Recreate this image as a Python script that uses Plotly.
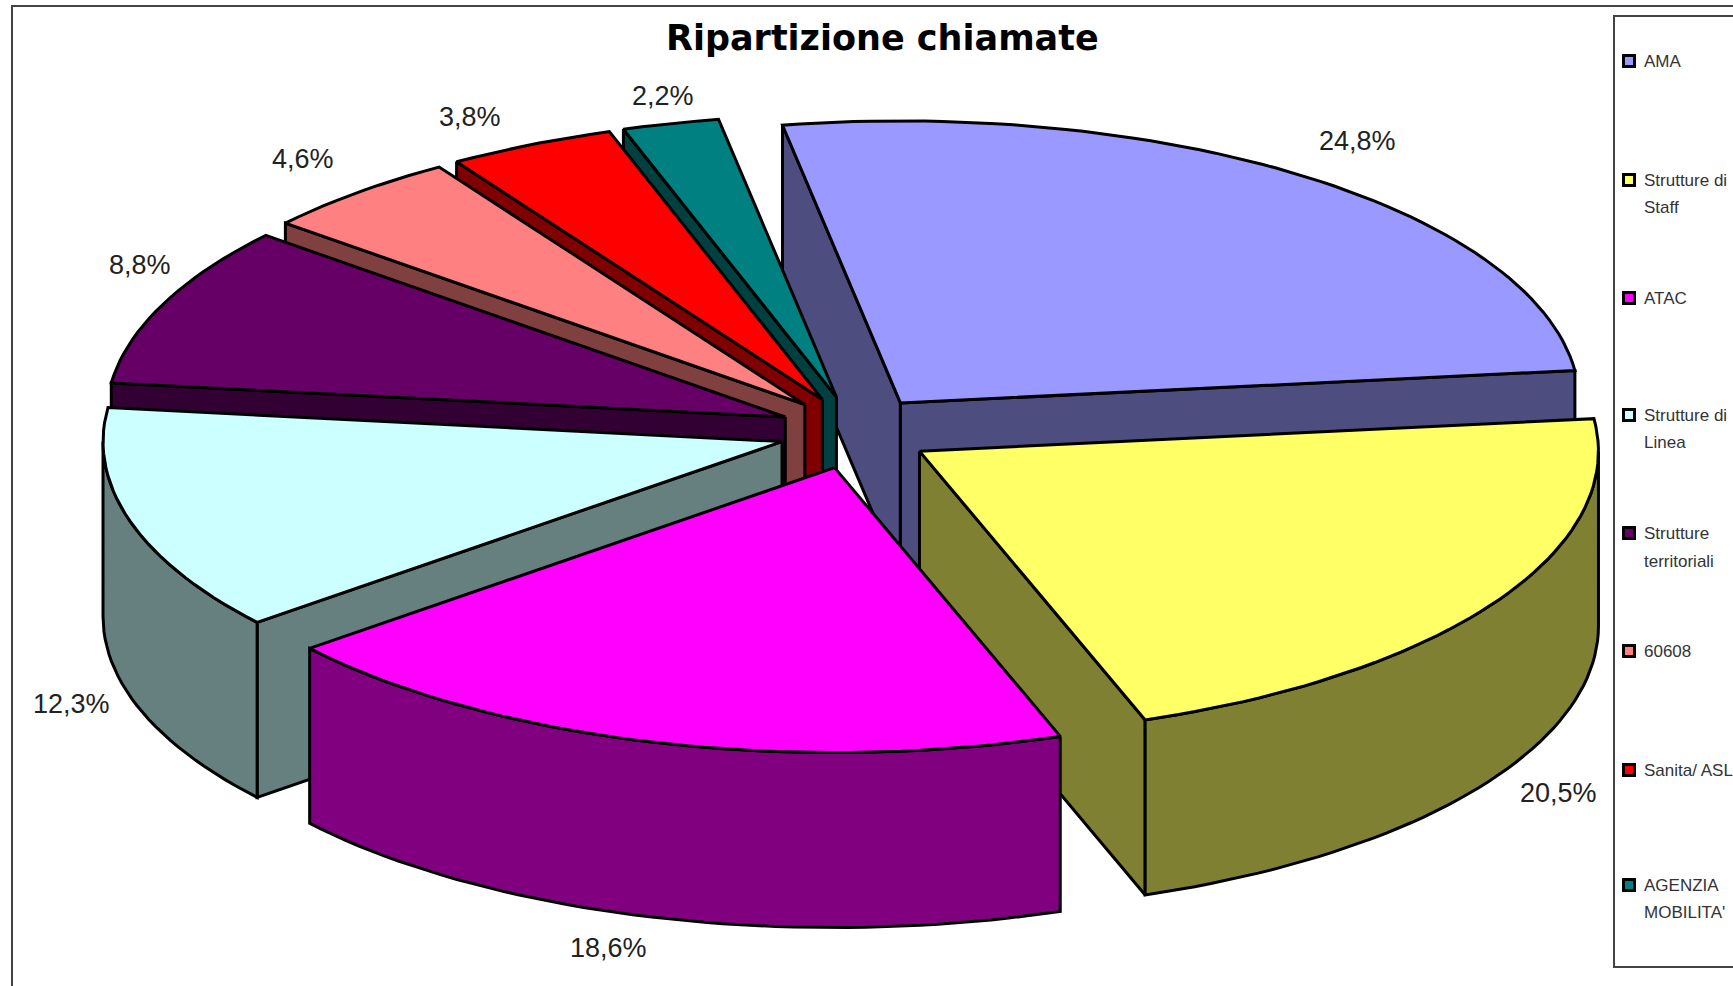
import math
import plotly.graph_objects as go

# ---- data ----
CATEGORIES = ["AMA", "Strutture di Staff", "ATAC", "Strutture di Linea",
              "Strutture territoriali", "60608", "Sanita/ ASL", "AGENZIA MOBILITA'"]
VALUES = [24.8, 20.5, 18.6, 12.3, 8.8, 4.6, 3.8, 2.2]
TOP_COLORS = ["#9999FF", "#FFFF66", "#FF00FF", "#CCFFFF", "#660066", "#FF8080", "#FF0000", "#008080"]
WALL_COLORS = ["#4D4D80", "#808033", "#800080", "#668080", "#330033", "#804040", "#800000", "#004040"]
LEGEND_LINES = [["AMA"], ["Strutture di", "Staff"], ["ATAC"], ["Strutture di", "Linea"],
                ["Strutture", "territoriali"], ["60608"], ["Sanita/ ASL"], ["AGENZIA", "MOBILITA'"]]
TITLE = "Ripartizione chiamate"

# ---- projection of the tilted, exploded pie ----
CX, CY = 855, 431
RX = 679
RY_BACK, RY_FRONT = 282, 285
EX = 76
EY_BACK, EY_FRONT = 35, 38
DEPTH = 175
START_DEG = -10
DRAW_ORDER = [0, 7, 6, 5, 4, 3, 1, 2]
LABEL_CENTRES = [(1357, 141), (1558, 793), (608, 948), (71, 704),
                 (140, 265), (303, 159), (470, 117), (663, 96)]
LEGEND_Y = [[61], [180, 207], [298], [415, 442], [533, 561], [651], [770], [885, 912]]
LEGEND_SWATCH_X, LEGEND_TEXT_X = 1629, 1642

total = sum(VALUES)
spans = []
a = START_DEG
for v in VALUES:
    spans.append((a, a + v / total * 360))
    a = spans[-1][1]


def arc(t0, t1, ax, ay):
    n = max(2, int(abs(t1 - t0) / 1.5) + 1)
    pts = [t0 + (t1 - t0) * i / (n - 1) for i in range(n)]
    xs = [ax + RX * math.sin(math.radians(t)) for t in pts]
    ys = []
    for t in pts:
        c = math.cos(math.radians(t))
        ys.append(ay - (RY_BACK if c > 0 else RY_FRONT) * c)
    return xs, ys


fig = go.Figure()


def poly(xs, ys, color, name):
    fig.add_trace(go.Scatter(x=xs + xs[:1], y=ys + ys[:1], mode="lines", fill="toself",
                             fillcolor=color, line=dict(color="black", width=3),
                             name=name, showlegend=False, hoverinfo="name"))


for i in DRAW_ORDER:
    t0, t1 = spans[i]
    mid = math.radians((t0 + t1) / 2)
    ax = CX + EX * math.sin(mid)
    c = math.cos(mid)
    ay = CY - (EY_BACK if c > 0 else EY_FRONT) * c
    name = CATEGORIES[i]
    wall = WALL_COLORS[i]
    for t, visible in ((t0, math.sin(math.radians(t0)) < 0), (t1, math.sin(math.radians(t1)) > 0)):
        if visible:
            ex_, ey_ = arc(t, t, ax, ay)
            poly([ax, ex_[0], ex_[0], ax], [ay, ey_[0], ey_[0] + DEPTH, ay + DEPTH], wall, name)
    lo, hi = max(t0, 90), min(t1, 270)
    if hi > lo:
        xs, ys = arc(lo, hi, ax, ay)
        poly(xs + xs[::-1], ys + [y + DEPTH for y in ys[::-1]], wall, name)
    xs, ys = arc(t0, t1, ax, ay)
    poly([ax] + xs, [ay] + ys, TOP_COLORS[i], name)

swatch_x, swatch_y = [], []
for ys in LEGEND_Y:
    swatch_x.append(LEGEND_SWATCH_X)
    swatch_y.append(ys[0])
fig.add_trace(go.Scatter(x=swatch_x, y=swatch_y, mode="markers", showlegend=False, hoverinfo="skip",
                         marker=dict(symbol="square", size=11, color=TOP_COLORS,
                                     line=dict(color="black", width=3))))

ann = []
for v, (lx, ly) in zip(VALUES, LABEL_CENTRES):
    ann.append(dict(x=lx, y=ly, xref="x", yref="y", showarrow=False,
                    text=f"{v:.1f}%".replace(".", ","),
                    font=dict(family="Liberation Sans", size=27, color="#222222")))
for lines, ys in zip(LEGEND_LINES, LEGEND_Y):
    for line, ly in zip(lines, ys):
        ann.append(dict(x=LEGEND_TEXT_X, y=ly, xref="x", yref="y", showarrow=False,
                        xanchor="left", align="left", text=line,
                        font=dict(family="Liberation Sans", size=17, color="#333333")))
ann.append(dict(x=882, y=38, xref="x", yref="y", showarrow=False, text=f"<b>{TITLE}</b>",
                font=dict(family="DejaVu Sans", size=35, color="black")))

fig.update_layout(
    width=1733, height=986, margin=dict(l=0, r=0, t=0, b=0),
    paper_bgcolor="white", plot_bgcolor="white", showlegend=False,
    xaxis=dict(range=[0, 1733], visible=False, fixedrange=True),
    yaxis=dict(range=[986, 0], visible=False, fixedrange=True),
    annotations=ann,
    shapes=[
        dict(type="rect", xref="x", yref="y", x0=12, y0=6, x1=1800, y1=1050,
             line=dict(color="#444444", width=2), layer="below"),
        dict(type="rect", xref="x", yref="y", x0=1614, y0=16, x1=1800, y1=967,
             line=dict(color="#444444", width=2), layer="below"),
    ],
)
fig.write_html("out.html", config={"displayModeBar": False},
               post_script="document.body.style.margin='0';document.body.style.overflow='hidden';")
